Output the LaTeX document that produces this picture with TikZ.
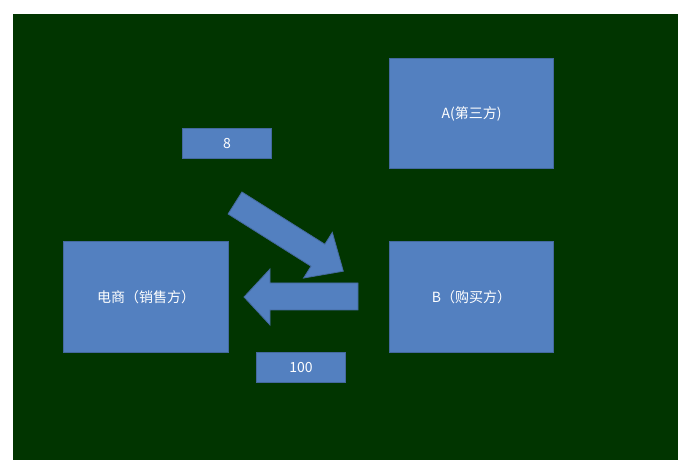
\documentclass[tikz,border=0pt]{standalone}
\usepackage{fontspec}
\setmainfont{Noto Sans CJK SC}
\begin{document}
\begin{tikzpicture}[x=1pt,y=-1pt,
  box/.style={draw=blueedge,fill=bluefill,line width=1pt,text=white,inner sep=0pt,anchor=north west,font=\fontsize{14}{16}\selectfont},
  shp/.style={draw=blueedge,fill=bluefill,line width=0.8pt}]
\definecolor{bg}{HTML}{013500}
\definecolor{bluefill}{HTML}{5380C0}
\definecolor{blueedge}{HTML}{44699E}
\useasboundingbox (0,0) rectangle (689,470);
\fill[white] (0,0) rectangle (689,470);
\fill[bg] (13,14) rectangle (678,460);
\node[box,minimum width=164pt,minimum height=110pt] (A) at (389,58) {A(第三方)};
\node[box,minimum width=164pt,minimum height=111pt] (B) at (389,241) {B（购买方）};
\node[box,minimum width=165pt,minimum height=111pt] (S) at (63,241) {电商（销售方）};
\node[box,minimum width=89pt,minimum height=30pt] (n8) at (182,128) {8};
\node[box,minimum width=89pt,minimum height=30pt] (n100) at (256,352) {100};
\draw[shp] (358,283) -- (270,283) -- (270,269) -- (244,297) -- (270,325) -- (270,310) -- (358,310) -- cycle;
\begin{scope}[shift={(235,203)},rotate=-32.2]
\draw[shp] (0,-13) -- (98,-13) -- (98,-27) -- (128,0) -- (98,27) -- (98,13) -- (0,13) -- cycle;
\end{scope}
\end{tikzpicture}
\end{document}
